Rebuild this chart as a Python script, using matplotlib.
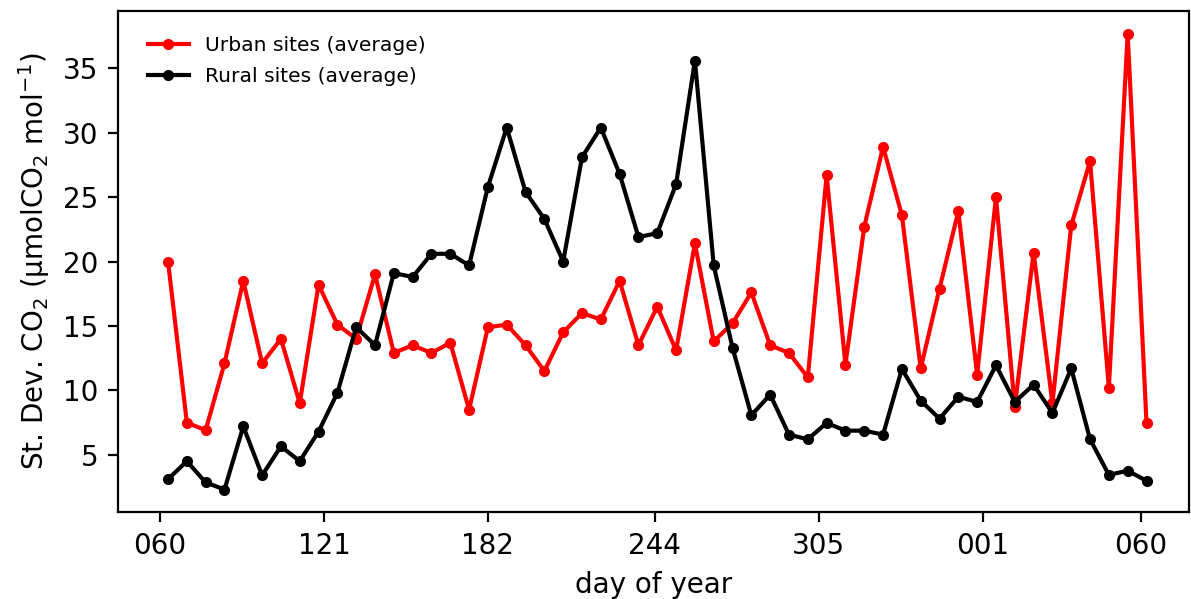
import numpy as np
import matplotlib.pyplot as plt

# weekly sample days (day count from 1 Jan of first year)
days = [63, 70, 77, 84, 91, 98, 105, 112, 119, 126, 133, 140, 147, 154,
        161, 168, 175, 182, 189, 196, 203, 210, 217, 224, 231, 238, 245,
        252, 259, 266, 273, 280, 287, 294, 301, 308, 315, 322, 329, 336,
        343, 350, 357, 364, 371, 378, 385, 392, 399, 406, 413, 420, 427]

urban = [20.0, 7.5, 6.9, 12.1, 18.5, 12.1, 14.0, 9.0, 18.2, 15.1,
         14.0, 19.0, 12.9, 13.5, 12.9, 13.7, 8.5, 14.9, 15.1, 13.5,
         11.5, 14.5, 16.0, 15.5, 18.5, 13.5, 16.5, 13.1, 21.4, 13.8,
         15.2, 17.6, 13.5, 12.9, 11.0, 26.7, 12.0, 22.7, 28.9, 23.6,
         11.7, 17.9, 23.9, 11.2, 25.0, 8.7, 20.7, 9.0, 22.8, 27.8,
         10.2, 37.7, 7.5]

rural = [3.1, 4.5, 2.85, 2.3, 7.2, 3.4, 5.65, 4.5, 6.8, 9.8,
         14.9, 13.5, 19.1, 18.8, 20.6, 20.6, 19.7, 25.8, 30.4, 25.4,
         23.3, 20.0, 28.1, 30.4, 26.8, 21.9, 22.2, 26.0, 35.6, 19.7,
         13.3, 8.06, 9.67, 6.56, 6.2, 7.47, 6.87, 6.87, 6.56, 11.66,
         9.2, 7.8, 9.5, 9.1, 11.95, 9.1, 10.44, 8.24, 11.7, 6.2,
         3.44, 3.76, 2.98]

tick_days = [60, 121, 182, 244, 305, 366, 425]
tick_labels = ['060', '121', '182', '244', '305', '001', '060']

fig = plt.figure(figsize=(1191 / 200, 599 / 200), dpi=200)
ax = fig.add_axes([0.0991, 0.1447, 0.8992, 0.8374])

ax.plot(days, urban, '.-', color='red', label='Urban sites (average)')
ax.plot(days, rural, '.-', color='black', label='Rural sites (average)')

ax.set_xticks(tick_days)
ax.set_xticklabels(tick_labels)
ax.set_xlim(44.4, 442.8)
ax.set_xlabel('day of year')
ax.set_ylabel('St. Dev. CO$_2$ (μmolCO$_2$ mol$^{-1}$)')
ax.legend(loc='upper left', frameon=False, fontsize=7.3,
          bbox_to_anchor=(0.011, 0.986), labelspacing=0.6)

fig.savefig('out.png', dpi=200)
